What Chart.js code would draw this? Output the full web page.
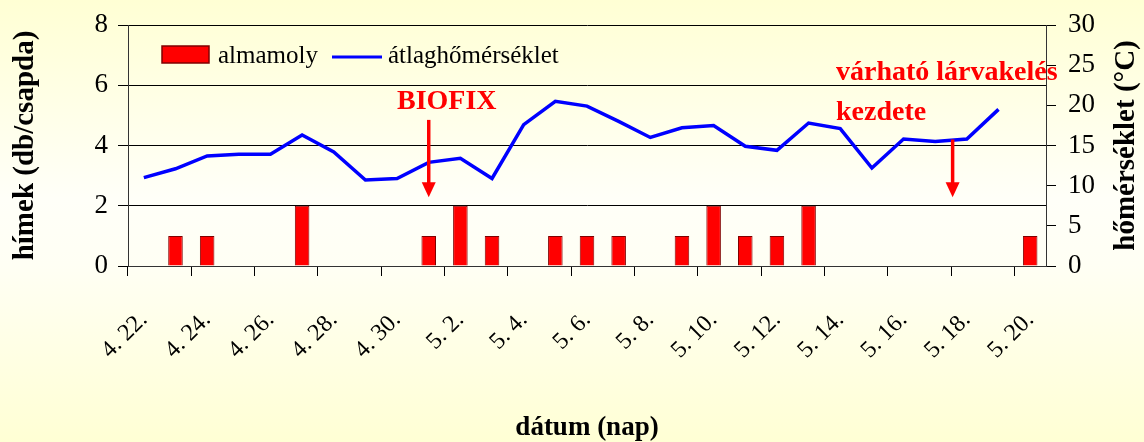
<!DOCTYPE html>
<html>
<head>
<meta charset="utf-8">
<script src="https://cdn.jsdelivr.net/npm/chart.js@4"></script>
<style>
  html, body { margin: 0; padding: 0; }
  body { width: 1144px; height: 442px; overflow: hidden;
    background: linear-gradient(to bottom, #FFFFD4 0%, #FFFFF8 45%, #FFFFF4 60%, #FFFFD4 100%); }
  #wrap { width: 1144px; height: 442px; position: relative; }
</style>
</head>
<body>
<div id="wrap"><canvas id="canvas"></canvas></div>
<script>
// dates (day by day), moth catches, mean temperature
const dates = ['4. 22.', '4. 23.', '4. 24.', '4. 25.', '4. 26.', '4. 27.', '4. 28.', '4. 29.', '4. 30.',
  '5. 1.', '5. 2.', '5. 3.', '5. 4.', '5. 5.', '5. 6.', '5. 7.', '5. 8.', '5. 9.', '5. 10.',
  '5. 11.', '5. 12.', '5. 13.', '5. 14.', '5. 15.', '5. 16.', '5. 17.', '5. 18.', '5. 19.', '5. 20.'];
const almamoly = [0, 1, 1, 0, 0, 2, 0, 0, 0, 1, 2, 1, 0, 1, 1, 1, 0, 1, 2, 1, 1, 2, 0, 0, 0, 0, 0, 0, 1];
const atlaghomerseklet = [11.0, 12.1, 13.7, 13.9, 13.9, 16.3, 14.2, 10.7, 10.9, 12.9, 13.4, 10.9, 17.6, 20.5,
  19.9, 18.0, 16.0, 17.2, 17.5, 14.9, 14.4, 17.8, 17.1, 12.2, 15.8, 15.5, 15.8, 19.5, null];

const serif = "'Liberation Serif', 'DejaVu Serif', serif";

// legend, right axis title and red annotations drawn by hand
const extras = {
  id: 'extras',
  afterDatasetsDraw(chart) {
    const c = chart.ctx;
    const x = chart.scales.x, y = chart.scales.y;
    const area = chart.chartArea;
    c.save();
    // legend
    c.fillStyle = '#FF0000';
    c.strokeStyle = '#800000';
    c.lineWidth = 1.5;
    c.fillRect(162, 46, 47, 17);
    c.strokeRect(162, 46, 47, 17);
    c.fillStyle = '#000';
    c.font = '25px ' + serif;
    c.textBaseline = 'middle';
    c.fillText('almamoly', 218, 56);
    c.strokeStyle = '#0000FF';
    c.lineWidth = 3;
    c.beginPath(); c.moveTo(332, 57); c.lineTo(382, 57); c.stroke();
    c.fillText('átlaghőmérséklet', 388, 56);

    // right axis title, reading upwards like the left one
    c.save();
    c.translate(1127, (area.top + area.bottom) / 2);
    c.rotate(-Math.PI / 2);
    c.textAlign = 'center';
    c.font = 'bold 29px ' + serif;
    c.fillText('hőmérséklet (°C)', 0, 0);
    c.restore();

    // annotations
    c.fillStyle = '#FF0000';
    c.strokeStyle = '#FF0000';
    c.font = 'bold 28px ' + serif;
    c.textBaseline = 'middle';
    c.fillText('BIOFIX', 397, y.getPixelForValue(5.45));
    c.fillText('várható lárvakelés', 836, y.getPixelForValue(6.4));
    c.fillText('kezdete', 836, y.getPixelForValue(5.1));
    const arrow = (px, y0, y1) => {
      const top = y.getPixelForValue(y0), tip = y.getPixelForValue(y1);
      c.lineWidth = 3.5;
      c.beginPath(); c.moveTo(px, top); c.lineTo(px, tip - 12); c.stroke();
      c.beginPath(); c.moveTo(px - 7, tip - 15); c.lineTo(px + 7, tip - 15); c.lineTo(px, tip); c.closePath(); c.fill();
    };
    arrow(x.getPixelForValue(9), 4.85, 2.28);
    arrow(x.getPixelForValue(25.55), 4.2, 2.28);
    c.restore();
  }
};

const noPad = (s, w) => { s.width = w; s.paddingTop = 0; s.paddingBottom = 0; };

const ctx = canvas.getContext('2d');
const config = {
  data: {
    labels: dates,
    datasets: [{
      type: 'line',
      label: 'átlaghőmérséklet',
      data: atlaghomerseklet,
      yAxisID: 'y1',
      borderColor: '#0000FF',
      borderWidth: 3.5,
      pointRadius: 0,
      tension: 0,
      order: 0
    }, {
      type: 'bar',
      label: 'almamoly',
      data: almamoly,
      yAxisID: 'y',
      backgroundColor: '#FF0000',
      borderColor: '#800000',
      borderWidth: 1,
      barPercentage: 0.46,
      categoryPercentage: 1,
      order: 1
    }]
  },
  options: {
    responsive: true,
    maintainAspectRatio: false,
    animation: false,
    layout: { padding: { top: 25, left: 0, right: 0, bottom: 0 } },
    plugins: { legend: { display: false }, tooltip: { enabled: false } },
    scales: {
      x: {
        offset: true,
        grid: {
          offset: true,
          drawOnChartArea: false,
          tickLength: 10,
          color: (c) => (c.index % 2 === 0 ? '#000' : 'rgba(0,0,0,0)')
        },
        border: { color: '#333', width: 1 },
        ticks: {
          autoSkip: false,
          minRotation: 45,
          maxRotation: 45,
          padding: 30,
          labelOffset: 0,
          color: '#000',
          font: { family: serif, size: 24 },
          callback: (v, i) => (i % 2 === 0 ? dates[i] : '')
        },
        title: { display: true, text: 'dátum (nap)', color: '#000', font: { family: serif, size: 27, weight: 'bold', lineHeight: 1 }, padding: { top: 0, bottom: 0 } },
        afterFit: (s) => { s.height = 176; s.paddingLeft = 0; s.paddingRight = 0; }
      },
      y: {
        position: 'left',
        min: 0, max: 8,
        ticks: { stepSize: 2, color: '#000', padding: 10, font: { family: serif, size: 27 } },
        grid: { color: '#000', lineWidth: 1, tickLength: 10 },
        border: { color: '#333', width: 1 },
        title: { display: true, text: 'hímek (db/csapda)', color: '#000', font: { family: serif, size: 29, weight: 'bold' }, padding: { top: 8, bottom: 0 } },
        afterFit: (s) => noPad(s, 128)
      },
      y1: {
        position: 'right',
        min: 0, max: 30,
        ticks: { stepSize: 5, color: '#000', padding: 12, font: { family: serif, size: 27 } },
        grid: { drawOnChartArea: false, color: '#000', tickLength: 10 },
        border: { color: '#333', width: 1 },
        afterFit: (s) => noPad(s, 98)
      }
    }
  },
  plugins: [extras]
};
const chart = new Chart(ctx, config);
</script>
</body>
</html>
